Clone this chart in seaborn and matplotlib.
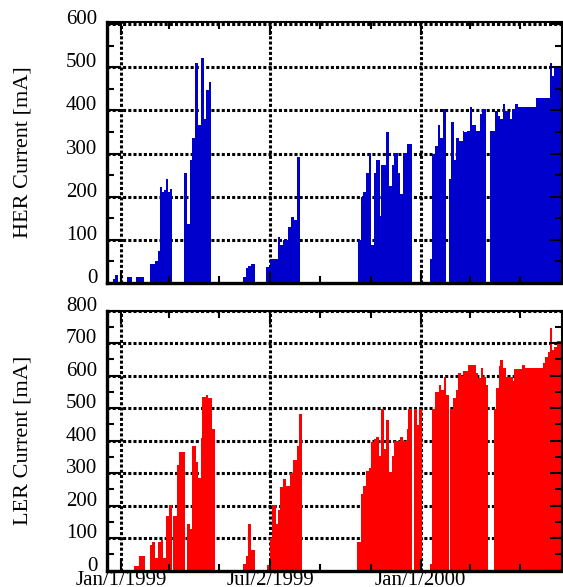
import matplotlib
matplotlib.use("Agg")
import matplotlib.pyplot as plt
from matplotlib.ticker import FixedLocator, MultipleLocator
import seaborn as sns

# HER ring current, step values: each value holds from its day until the next day
# (days counted from Jan/1/1999, zero = no beam)
her_day = [-10, -7, -3, 8, 13, 18, 28, 35, 41, 45, 47, 50, 52, 55, 57, 60, 62,
           77, 81, 84, 87, 90, 94, 97, 101, 103, 107, 110,
           149, 152, 155, 159, 163,
           177, 182, 191, 194, 197, 204, 207, 211, 214, 218,
           289, 292, 295, 298, 302, 305, 308, 311, 315, 317, 323, 327, 330, 333,
           337, 340, 343, 348, 354,
           376, 379, 382, 386, 389, 392, 396, 399, 402, 406, 408, 412, 416, 418,
           421, 425, 428, 432, 437, 440, 445,
           450, 455, 456, 459, 462, 465, 468, 474, 476, 480, 483, 506, 522, 525, 528]
her_ma = [10, 19, 0, 14, 0, 14, 0, 44, 51, 75, 223, 212, 215, 242, 212, 218, 0,
          255, 137, 286, 335, 509, 367, 521, 379, 447, 465, 0,
          14, 35, 39, 44, 0,
          37, 55, 107, 88, 100, 130, 154, 147, 293, 0,
          100, 200, 210, 255, 302, 88, 255, 286, 156, 274, 349, 224, 274, 302,
          255, 207, 302, 323, 0,
          55, 298, 317, 367, 335, 404, 0, 242, 372, 286, 335, 330, 353, 349,
          353, 409, 367, 353, 391, 404, 0,
          353, 216, 398, 386, 381, 414, 398, 381, 404, 414, 409, 428, 509, 479, 500]

# LER ring current, same convention
ler_day = [16, 22, 29, 35, 38, 42, 45, 49, 51, 55, 58, 62, 64, 68, 71, 78,
           81, 84, 87, 91, 94, 97, 99, 103, 106, 111, 114,
           149, 152, 155, 159, 163,
           178, 182, 184, 189, 191, 194, 197, 201, 206, 210, 214, 217, 221,
           288, 292, 295, 298, 302, 305, 308, 311, 314, 317, 320, 323, 327, 330,
           333, 340, 344, 348, 350, 354, 357, 361, 363, 367,
           376, 379, 382, 387, 390, 393, 396, 399, 401, 405, 408, 411, 414, 417,
           423, 432, 435, 438, 441, 444, 447,
           454, 457, 460, 462, 465, 469, 477, 479, 488, 492, 514, 517, 520, 522,
           525, 528, 531]
ler_ma = [13, 45, 0, 80, 88, 39, 88, 94, 39, 168, 202, 0, 168, 325, 365, 0,
          143, 129, 382, 335, 286, 409, 533, 539, 530, 434, 0,
          20, 45, 143, 63, 0,
          16, 101, 202, 143, 186, 258, 283, 260, 299, 341, 384, 483, 0,
          89, 236, 261, 307, 316, 397, 405, 412, 351, 498, 375, 464, 302, 351,
          400, 412, 400, 434, 498, 0, 498, 449, 498, 0,
          21, 498, 548, 572, 557, 595, 539, 0, 498, 532, 557, 607, 600, 614,
          631, 607, 592, 622, 595, 572, 0,
          498, 563, 628, 647, 624, 597, 583, 621, 631, 622, 638, 657, 672, 745,
          678, 687, 706]

day_first = -17
day_last = 537

date_ticks = [0, 182, 365]
date_labels = ["Jan/1/1999", "Jul/2/1999", "Jan/1/2000"]
date_minor = [59, 120, 243, 304, 425, 486]

sns.set_style("ticks")
plt.rcParams["font.family"] = ["Liberation Serif", "DejaVu Serif"]

fig = plt.figure(figsize=(5.63, 5.87), dpi=100)
ax_her = fig.add_axes([0.190, 0.518, 0.808, 0.4445])
ax_ler = fig.add_axes([0.190, 0.028, 0.808, 0.443])

grid_style = dict(color="black", lw=2.2, ls=(0, (1, 0.7)), zorder=0.5)


def draw_panel(ax, days, values, color, ylabel, ytop, ymax):
    # step-filled current history through seaborn's histogram (one bin per step)
    sns.histplot(x=days, weights=values, bins=days + [day_last], element="step",
                 fill=True, color=color, alpha=1, linewidth=0, ax=ax, zorder=1)
    ax.set_xlim(day_first, day_last)
    ax.set_ylim(0, ymax)

    for d in date_ticks:
        ax.axvline(d, **grid_style)
    for v in range(100, ytop + 1, 100):
        ax.axhline(v, **grid_style)

    ax.set_axisbelow(False)
    ax.xaxis.set_major_locator(FixedLocator(date_ticks))
    ax.xaxis.set_minor_locator(FixedLocator(date_minor))
    ax.yaxis.set_major_locator(MultipleLocator(100))
    ax.yaxis.set_minor_locator(MultipleLocator(50))
    ax.tick_params(which="both", direction="in", top=True, right=True,
                   width=1.5, color="black", labelcolor="black")
    ax.tick_params(which="major", length=9)
    ax.tick_params(which="minor", length=5)
    ax.tick_params(axis="y", labelsize=15, pad=7)
    ax.tick_params(axis="x", labelsize=15, pad=0.5)
    for t in ax.yaxis.get_major_ticks():
        t.label1.set_va("baseline")

    for side in ["left", "bottom"]:
        ax.spines[side].set_linewidth(2.4)
    for side in ["top", "right"]:
        ax.spines[side].set_linewidth(1.5)
    for s in ax.spines.values():
        s.set_color("black")
        s.set_zorder(3)

    ax.set_xlabel("")
    ax.set_ylabel(ylabel, fontsize=16, color="black")
    ax.yaxis.set_label_coords(-0.163, 0.5)


draw_panel(ax_her, her_day, her_ma, "#0000cc", "HER Current [mA]", 600, 605)
draw_panel(ax_ler, ler_day, ler_ma, "#ff0000", "LER Current [mA]", 800, 800)

ax_her.tick_params(axis="x", labelbottom=False)
ax_ler.set_xticklabels(date_labels)

fig.savefig("out.png", dpi=100)
